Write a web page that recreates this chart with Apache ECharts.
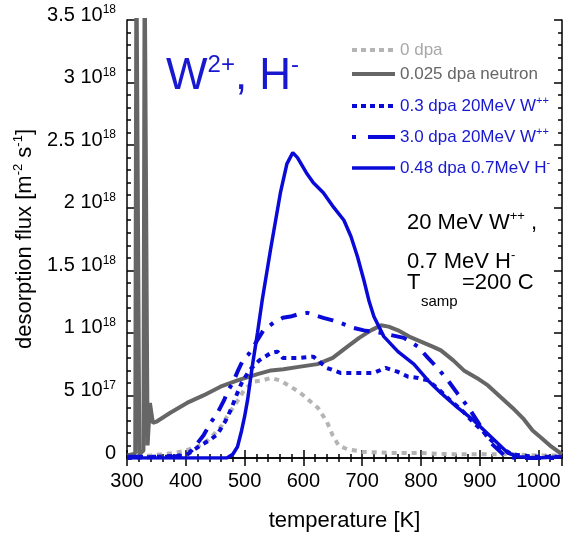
<!DOCTYPE html>
<html><head><meta charset="utf-8">
<script src="https://cdn.jsdelivr.net/npm/echarts@6/dist/echarts.min.js"></script>
<style>html,body{margin:0;padding:0;background:#fff}#c{width:565px;height:537px}</style>
</head><body><div id="c"></div>
<script>
// ---- data (flux in units of 1e17 m^-2 s^-1, temperature in K) ----
const xTicks = [300, 400, 500, 600, 700, 800, 900, 1000];
const yTickLabels = ['0', '5 10|17', '1 10|18', '1.5 10|18', '2 10|18', '2.5 10|18', '3 10|18', '3.5 10|18'];

const seriesNames = ['0 dpa', '0.025 dpa neutron', '0.3 dpa 20MeV W++', '3.0 dpa 20MeV W++', '0.48 dpa 0.7MeV H-'];

const tZero = [300,340,380,400,420,437,450,460,470,480,490,500,515,530,545,560,575,595,610,625,640,650,660,675,700,750,800,850,900,950,1000,1040];
const vZero = [0.1,0.2,0.4,0.6,0.9,1.4,2.0,2.5,3.3,4.0,4.7,5.5,6.1,6.2,6.4,6.2,5.8,5.2,4.6,4.0,2.9,1.8,1.0,0.7,0.5,0.4,0.4,0.3,0.3,0.3,0.2,0.2];

const tNeutron = [300,310,314,316,319,321,324,328,330,333,335,339,344,350,373,402,430,459,488,522,545,566,595,624,650,675,695,715,732,745,761,780,800,820,834,855,873,895,914,935,956,975,990,1005,1022,1040];
const vNeutron = [0.2,0.3,0.4,40,40,0.3,0.4,0.6,40,40,1.0,4.4,2.8,2.9,3.6,4.4,5.0,5.7,6.2,6.7,7.0,7.1,7.3,7.5,8.0,8.9,9.6,10.2,10.6,10.5,10.2,9.7,9.3,8.9,8.6,7.8,7.0,6.4,5.8,4.9,4.0,3.1,2.2,1.6,0.9,0.3];

const tW03 = [300,400,425,440,454,468,478,486,495,508,525,545,556,565,580,595,617,640,663,690,720,740,760,778,795,812,830,850,868,890,902,920,936,955,970,1000,1040];
const vW03 = [0,0.2,1.0,1.4,1.9,3.0,4.0,5.0,6.0,7.0,7.8,8.4,8.5,8.0,8.0,8.0,8.1,7.2,6.8,6.8,6.8,7.2,6.9,6.5,6.4,6.2,5.5,4.6,3.9,2.8,2.3,1.4,0.8,0.3,0.2,0.1,0.1];

const tW30 = [300,380,400,410,420,430,442,454,465,472,480,488,497,507,515,532,549,565,578,592,607,620,634,650,663,685,703,732,771,795,812,830,846,863,880,902,919,942,960,1040];
const vW30 = [0.1,0.1,0.3,0.6,1.2,1.8,2.8,3.6,4.6,5.4,6.0,6.9,7.8,8.3,8.9,10.2,10.8,11.2,11.3,11.5,11.6,11.4,11.2,11.0,10.8,10.4,10.2,10.0,9.6,8.9,8.0,7.1,6.2,5.1,4.1,2.5,1.2,0.2,0,0];

const tH = [300,400,470,480,488,495,500,505,513,522,530,544,561,572,582,590,595,605,617,634,652,669,681,692,703,712,720,737,761,788,812,834,863,890,919,948,966,1000,1040];
const vH = [0,0,0,0.3,0.9,2.2,3.3,4.6,7.3,10.0,12.6,16.6,21.2,23.5,24.4,24.0,23.6,22.8,22.0,21.2,20.0,19.0,17.7,16.1,14.2,12.5,11.3,9.7,8.5,7.5,6.2,5.2,4.0,3.0,1.7,0.4,0.1,0,0.1];

// ---- chart ----
const FONT = '"Liberation Sans", Arial, Helvetica, sans-serif';
const BLUE = '#0a0ad8';
const TBLUE = '#1818d0';
const GRAY_L = '#b4b4b4';
const GRAY_D = '#666666';
const zip = (a, b) => a.map((x, i) => [x, b[i]]);
const xMin = 300, xMax = 1040, yMin = 0, yMax = 35;

const styles = [
  { color: GRAY_L, width: 4, type: [5, 5], cap: 'butt' },
  { color: GRAY_D, width: 4, type: 'solid' },
  { color: BLUE, width: 4, type: [5, 5], cap: 'butt' },
  { color: BLUE, width: 4, type: [16, 9, 4, 9], cap: 'butt' },
  { color: BLUE, width: 3.5, type: 'solid' }
];
const legendStyles = [
  { color: GRAY_L, width: 4, type: [5, 4], cap: 'butt' },
  { color: GRAY_D, width: 4, type: 'solid' },
  { color: BLUE, width: 4, type: [5, 4], cap: 'butt' },
  { color: BLUE, width: 4, type: [4, 12, 30, 4], cap: 'butt' },
  { color: BLUE, width: 3.5, type: 'solid' }
];

function yLabel(v) {
  const idx = Math.round(v / 5);
  const s = yTickLabels[idx];
  if (s === undefined || Math.abs(v - idx * 5) > 1e-6) return '';
  const p = s.split('|');
  return p.length > 1 ? '{b|' + p[0] + '}{s|' + p[1] + '}' : '{b|' + p[0] + '}';
}
function legendFmt(name) {
  return name.replace('W++', 'W{s|++}').replace('H-', 'H{s|-}');
}

const axisCommon = { type: 'value', splitLine: { show: false } };
const black = { color: '#000', width: 1.5 };

function xAx(pos, interval, major) {
  return Object.assign({}, axisCommon, {
    position: pos, min: xMin, max: xMax, interval: interval,
    axisLine: { show: major, lineStyle: black },
    axisTick: { show: true, inside: true, length: major ? 8 : 4, lineStyle: black },
    axisLabel: { show: false }
  });
}
function yAx(pos, interval, major) {
  return Object.assign({}, axisCommon, {
    position: pos, min: yMin, max: yMax, interval: interval,
    axisLine: { show: major, lineStyle: black },
    axisTick: { show: true, inside: true, length: major ? 8 : 4, lineStyle: black },
    axisLabel: { show: false }
  });
}

const xMain = xAx('bottom', 100, true);
xMain.axisLabel = {
  show: true, margin: 13, fontSize: 20, color: '#000', fontFamily: FONT,
  formatter: v => (xTicks.indexOf(v) >= 0 ? String(v) : '')
};
xMain.name = 'temperature [K]';
xMain.nameLocation = 'middle';
xMain.nameGap = 52;
xMain.nameTextStyle = { fontSize: 22, color: '#000', fontFamily: FONT };

const yMain = yAx('left', 5, true);
yMain.axisLabel = {
  show: true, margin: 11, color: '#000', fontFamily: FONT,
  formatter: yLabel, padding: [0, 0, 10, 0],
  rich: {
    b: { fontSize: 20, lineHeight: 22, fontFamily: FONT, color: '#000' },
    s: { fontSize: 12, lineHeight: 12, verticalAlign: 'top', fontFamily: FONT, color: '#000' }
  }
};
yMain.name = '{b|desorption flux [m}{s|-2}{b| s}{s|-1}{b|]}';
yMain.nameLocation = 'middle';
yMain.nameRotate = 90;
yMain.nameGap = 86;
yMain.nameTextStyle = {
  color: '#000', fontFamily: FONT,
  rich: {
    b: { fontSize: 22, lineHeight: 26, fontFamily: FONT, color: '#000' },
    s: { fontSize: 13, lineHeight: 13, verticalAlign: 'top', fontFamily: FONT, color: '#000' }
  }
};

function legendItem(i, color, lh) {
  return {
    name: seriesNames[i],
    itemStyle: { opacity: 0, borderWidth: 0 },
    lineStyle: Object.assign({ opacity: 1 }, legendStyles[i]),
    textStyle: {
      color: color, fontSize: 17, fontFamily: FONT, lineHeight: lh,
      rich: {
        s: { fontSize: 11, lineHeight: 11, verticalAlign: 'top', color: color, fontFamily: FONT }
      }
    }
  };
}

const option = {
  animation: false,
  backgroundColor: '#fff',
  grid: { left: 127, right: 3, top: 20, bottom: 79, containLabel: false },
  xAxis: [xMain, xAx('bottom', 20, false), xAx('top', 100, true), xAx('top', 20, false)],
  yAxis: [yMain, yAx('left', 1, false), yAx('right', 5, true), yAx('right', 1, false)],
  legend: [
    {
      orient: 'vertical', left: 350, top: 40, padding: 0, itemGap: 4,
      itemWidth: 43, itemHeight: 14, selectedMode: false,
      itemStyle: { opacity: 0 },
      formatter: legendFmt,
      data: [legendItem(0, '#a8a8a8', 20), legendItem(1, '#666666', 20)]
    },
    {
      orient: 'vertical', left: 350, top: 95, padding: 0, itemGap: 9,
      itemWidth: 43, itemHeight: 14, selectedMode: false,
      itemStyle: { opacity: 0 },
      formatter: legendFmt,
      data: [legendItem(2, TBLUE, 22), legendItem(3, TBLUE, 22), legendItem(4, TBLUE, 22)]
    }
  ],
  graphic: [
    {
      type: 'text', left: 166, top: 53, silent: true,
      style: {
        text: '{b|W}{s|2+}{b|, H}{s|-}',
        fill: TBLUE,
        rich: {
          b: { fontSize: 44, lineHeight: 48, fontFamily: FONT, fill: TBLUE },
          s: { fontSize: 24, lineHeight: 24, verticalAlign: 'top', fontFamily: FONT, fill: TBLUE }
        }
      }
    },
    {
      type: 'text', left: 407, top: 210, silent: true,
      style: {
        text: '{b|20 MeV W}{s|++}{b| ,}',
        fill: '#000',
        rich: {
          b: { fontSize: 22, lineHeight: 26, fontFamily: FONT, fill: '#000' },
          s: { fontSize: 13, lineHeight: 13, verticalAlign: 'top', fontFamily: FONT, fill: '#000' }
        }
      }
    },
    {
      type: 'text', left: 407, top: 249, silent: true,
      style: {
        text: '{b|0.7 MeV H}{s|-}',
        fill: '#000',
        rich: {
          b: { fontSize: 22, lineHeight: 26, fontFamily: FONT, fill: '#000' },
          s: { fontSize: 13, lineHeight: 13, verticalAlign: 'top', fontFamily: FONT, fill: '#000' }
        }
      }
    },
    {
      type: 'text', left: 407, top: 272, silent: true,
      style: { text: 'T', fill: '#000', fontSize: 22, fontFamily: FONT }
    },
    {
      type: 'text', left: 421, top: 294, silent: true,
      style: { text: 'samp', fill: '#000', fontSize: 15, fontFamily: FONT }
    },
    {
      type: 'text', left: 462, top: 272, silent: true,
      style: { text: '=200 C', fill: '#000', fontSize: 22, fontFamily: FONT }
    }
  ],
  series: [
    { t: tZero, v: vZero, z: 2 },
    { t: tNeutron, v: vNeutron, z: 3 },
    { t: tW03, v: vW03, z: 4 },
    { t: tW30, v: vW30, z: 5 },
    { t: tH, v: vH, z: 6 }
  ].map((s, i) => ({
    type: 'line', name: seriesNames[i], data: zip(s.t, s.v),
    symbol: 'none', showSymbol: false, clip: true, z: s.z,
    itemStyle: { color: styles[i].color },
    lineStyle: styles[i]
  }))
};

const chart = echarts.init(document.getElementById('c'), null, { renderer: 'canvas' });
chart.setOption(option);
</script>
</body></html>
